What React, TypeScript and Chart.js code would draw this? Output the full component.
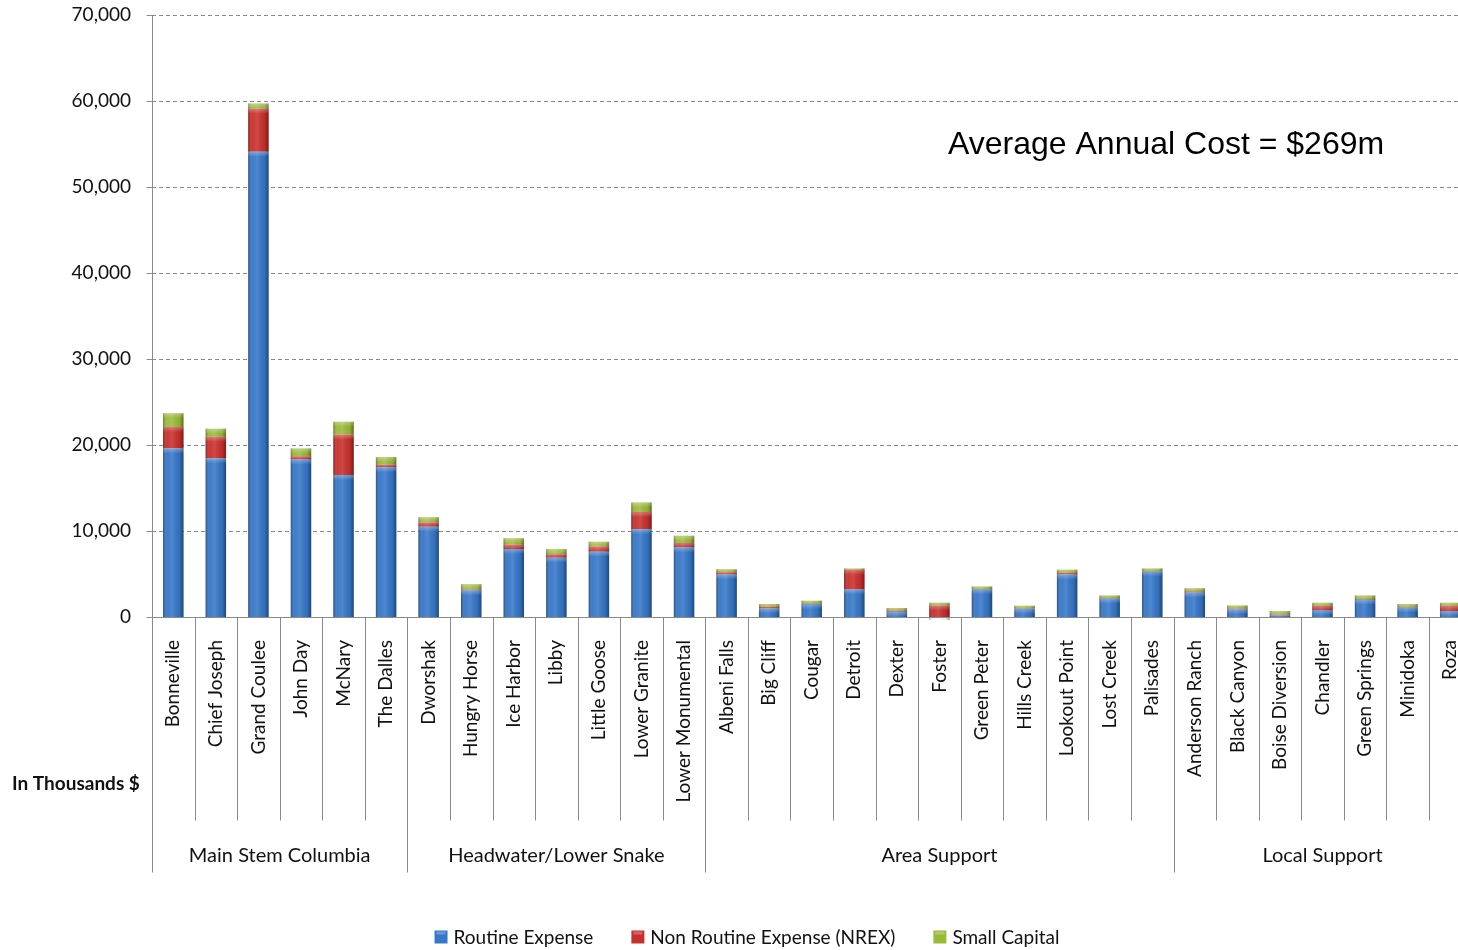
import React, { useEffect, useRef } from "react";
import { Chart, registerables } from "chart.js";

Chart.register(...registerables);

const categories = [
  "Bonneville", "Chief Joseph", "Grand Coulee", "John Day", "McNary", "The Dalles",
  "Dworshak", "Hungry Horse", "Ice Harbor", "Libby", "Little Goose", "Lower Granite", "Lower Monumental",
  "Albeni Falls", "Big Cliff", "Cougar", "Detroit", "Dexter", "Foster", "Green Peter", "Hills Creek",
  "Lookout Point", "Lost Creek", "Palisades",
  "Anderson Ranch", "Black Canyon", "Boise Diversion", "Chandler", "Green Springs", "Minidoka", "Roza",
];

const groupLabels = ["Main Stem Columbia", "Headwater/Lower Snake", "Area Support", "Local Support"];
const groupSizes = [6, 7, 11, 7];

const routineExpense = [
  19600, 18450, 54100, 18300, 16500, 17400,
  10500, 3100, 7900, 6900, 7600, 10200, 8100,
  4950, 1000, 1500, 3200, 600, -350, 3200, 950, 4950, 2150, 5300,
  2850, 900, 200, 800, 2000, 1100, 700,
];
const nonRoutineExpense = [
  2500, 2500, 5000, 400, 4700, 300,
  500, 100, 500, 400, 600, 2000, 500,
  250, 200, 50, 2300, 150, 1350, 50, 50, 200, 50, 50,
  150, 100, 100, 500, 100, 50, 600,
];
const smallCapital = [
  1600, 950, 600, 900, 1500, 900,
  600, 600, 750, 600, 550, 1100, 850,
  350, 300, 350, 150, 300, 300, 300, 300, 350, 300, 300,
  350, 350, 400, 350, 400, 350, 350,
];

const yTicks = [0, 10000, 20000, 30000, 40000, 50000, 60000, 70000];
const seriesNames = ["Routine Expense", "Non Routine Expense (NREX)", "Small Capital"];
const seriesColors = ["#3677c8", "#c9302c", "#9aba3a"];
const annotationText = "Average Annual Cost = $269m";
const unitLabel = "In Thousands $";

const FONT = "Lato, 'Open Sans', sans-serif";

const decorPlugin = {
  id: "decor",
  beforeDatasetsDraw(chart: any) {
    const { ctx, chartArea: a, scales } = chart;
    const y = scales.y;
    ctx.save();
    ctx.strokeStyle = "#8a8a8a";
    ctx.lineWidth = 1;
    ctx.setLineDash([4, 3]);
    for (const v of yTicks) {
      if (v === 0) continue;
      const py = Math.round(y.getPixelForValue(v)) + 0.5;
      ctx.beginPath();
      ctx.moveTo(a.left, py);
      ctx.lineTo(a.right, py);
      ctx.stroke();
    }
    ctx.restore();
  },
  afterDatasetsDraw(chart: any) {
    const { ctx } = chart;
    ctx.save();
    chart.data.datasets.forEach((_d: any, di: number) => {
      const meta = chart.getDatasetMeta(di);
      meta.data.forEach((el: any) => {
        const p = el.getProps(["x", "y", "base", "width"], true);
        const left = p.x - p.width / 2;
        const top = Math.min(p.y, p.base);
        const h = Math.abs(p.base - p.y);
        if (h < 0.5) return;
        const g = ctx.createLinearGradient(left, 0, left + p.width, 0);
        g.addColorStop(0, "rgba(0,0,0,0.35)");
        g.addColorStop(0.2, "rgba(255,255,255,0.04)");
        g.addColorStop(0.45, "rgba(255,255,255,0.12)");
        g.addColorStop(0.8, "rgba(0,0,0,0.06)");
        g.addColorStop(1, "rgba(0,0,0,0.4)");
        ctx.fillStyle = g;
        ctx.fillRect(left, top, p.width, h);
        const th = Math.min(5, h);
        const tg = ctx.createLinearGradient(0, top, 0, top + th);
        tg.addColorStop(0, "rgba(255,255,255,0.3)");
        tg.addColorStop(1, "rgba(255,255,255,0)");
        ctx.fillStyle = tg;
        ctx.fillRect(left, top, p.width, th);
      });
    });
    ctx.restore();
  },
  afterDraw(chart: any) {
    const { ctx, chartArea: a, scales } = chart;
    const x = scales.x;
    const y = scales.y;
    const n = categories.length;
    ctx.save();
    ctx.strokeStyle = "#8a8a8a";
    ctx.lineWidth = 1;
    ctx.setLineDash([]);
    const ax = Math.round(a.left) + 0.5;
    const bottom = Math.round(a.bottom) + 0.5;
    const longEnd = bottom + 255;
    const shortEnd = bottom + 203;
    ctx.beginPath();
    ctx.moveTo(ax, Math.round(y.getPixelForValue(70000)));
    ctx.lineTo(ax, longEnd);
    ctx.stroke();
    for (const v of yTicks) {
      const py = Math.round(y.getPixelForValue(v)) + 0.5;
      ctx.beginPath();
      ctx.moveTo(ax - 6, py);
      ctx.lineTo(ax, py);
      ctx.stroke();
    }
    ctx.beginPath();
    ctx.moveTo(ax, bottom);
    ctx.lineTo(a.right, bottom);
    ctx.stroke();
    const groupEnds: number[] = [];
    let acc = 0;
    for (const s of groupSizes) { acc += s; groupEnds.push(acc); }
    for (let i = 1; i <= n; i++) {
      const bx = i < n
        ? Math.round((x.getPixelForValue(i - 1) + x.getPixelForValue(i)) / 2) + 0.5
        : Math.round(a.right) - 0.5;
      const isGroup = groupEnds.includes(i);
      ctx.beginPath();
      ctx.moveTo(bx, bottom);
      ctx.lineTo(bx, isGroup ? longEnd : shortEnd);
      ctx.stroke();
    }
    ctx.fillStyle = "#111";
    ctx.font = `20px ${FONT}`;
    ctx.textAlign = "center";
    ctx.textBaseline = "middle";
    let start = 0;
    groupLabels.forEach((lab, gi) => {
      const end = start + groupSizes[gi];
      const lx = a.left + ((a.right - a.left) * start) / n;
      const rx = a.left + ((a.right - a.left) * end) / n;
      ctx.fillText(lab, (lx + rx) / 2, bottom + 238);
      start = end;
    });
    ctx.font = `bold 19px ${FONT}`;
    ctx.textAlign = "left";
    ctx.fillText(unitLabel, 12, bottom + 166);
    ctx.font = "32px 'Liberation Sans', Arial, sans-serif";
    ctx.fillStyle = "#000";
    ctx.textAlign = "left";
    ctx.fillText(annotationText, 948, 145);
    ctx.font = `19px ${FONT}`;
    const box = 13;
    const gapText = 6;
    const gapItem = 38;
    const widths = seriesNames.map((s) => ctx.measureText(s).width);
    const total = widths.reduce((s, w) => s + box + gapText + w, 0) + gapItem * (seriesNames.length - 1);
    let lx = 747 - total / 2;
    const ly = 938;
    seriesNames.forEach((s, i) => {
      ctx.fillStyle = seriesColors[i];
      ctx.fillRect(lx, ly - box / 2 - 1, box, box);
      ctx.fillStyle = "rgba(255,255,255,0.25)";
      ctx.fillRect(lx + 2, ly - box / 2, box - 4, 3);
      ctx.fillStyle = "#111";
      ctx.textAlign = "left";
      ctx.fillText(s, lx + box + gapText, ly);
      lx += box + gapText + widths[i] + gapItem;
    });
    ctx.restore();
  },
};

export default function App() {
  const ref = useRef<HTMLCanvasElement | null>(null);
  useEffect(() => {
    if (!ref.current) return;
    const chart = new Chart(ref.current, {
      type: "bar",
      data: {
        labels: categories,
        datasets: [
          { label: seriesNames[0], data: routineExpense, backgroundColor: seriesColors[0], barPercentage: 0.48, categoryPercentage: 1 },
          { label: seriesNames[1], data: nonRoutineExpense, backgroundColor: seriesColors[1], barPercentage: 0.48, categoryPercentage: 1 },
          { label: seriesNames[2], data: smallCapital, backgroundColor: seriesColors[2], barPercentage: 0.48, categoryPercentage: 1 },
        ],
      },
      options: {
        responsive: false,
        animation: false,
        devicePixelRatio: 1,
        layout: { padding: { top: 15, left: 0, right: 0, bottom: 0 } },
        plugins: { legend: { display: false }, tooltip: { enabled: false } },
        scales: {
          x: {
            stacked: true,
            grid: { display: false, drawTicks: false },
            border: { display: false },
            ticks: {
              autoSkip: false,
              maxRotation: 90,
              minRotation: 90,
              padding: 23,
              color: "#111",
              font: { family: FONT, size: 19 },
            },
            afterFit: (s: any) => { s.height = 333; s.paddingTop = 0; s.paddingBottom = 0; },
          },
          y: {
            stacked: true,
            min: 0,
            max: 70000,
            grid: { display: false, drawTicks: false },
            border: { display: false },
            ticks: {
              stepSize: 10000,
              padding: 21,
              color: "#111",
              font: { family: FONT, size: 19 },
              callback: (v: any) => Number(v).toLocaleString("en-US"),
            },
            afterFit: (s: any) => { s.width = 152; s.paddingTop = 0; s.paddingBottom = 0; },
          },
        },
      },
      plugins: [decorPlugin],
    });
    return () => chart.destroy();
  }, []);
  return (
    <div style={{ position: "fixed", left: 0, top: 0, width: 1458, height: 950, overflow: "hidden", background: "#fff" }}>
      <canvas ref={ref} width={1496} height={950} style={{ display: "block", width: 1496, height: 950 }} />
    </div>
  );
}
